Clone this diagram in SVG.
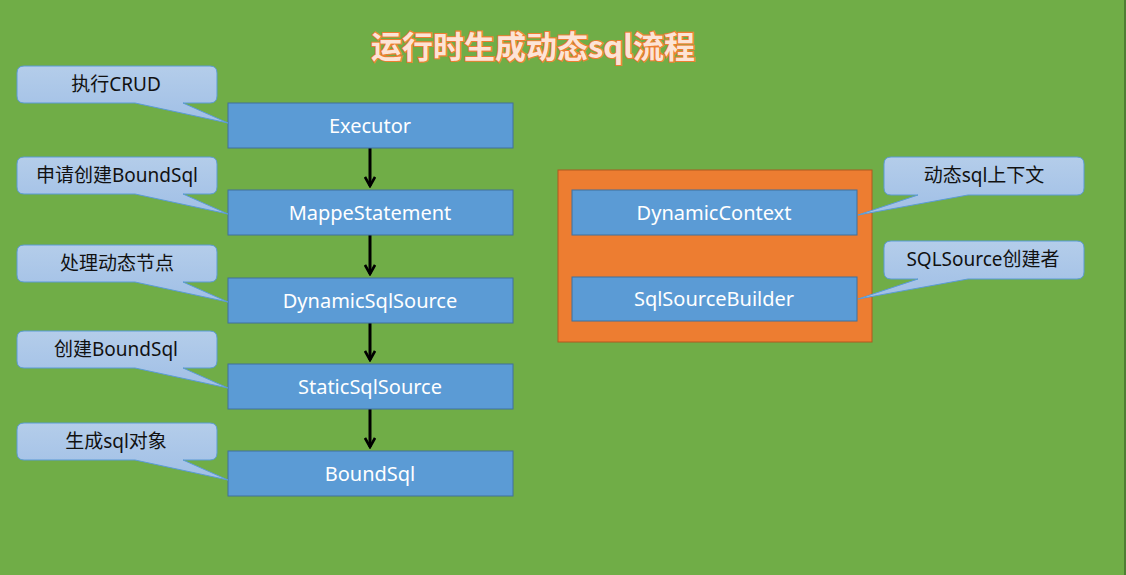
<svg xmlns="http://www.w3.org/2000/svg" width="1126" height="575" viewBox="0 0 1126 575">
<defs>
<style>
.box{fill:#5B9BD5;stroke:#41719C;stroke-width:1}
.bt{font-family:"Noto Sans","Open Sans",sans-serif;font-size:20px;fill:#FFFFFF;text-anchor:middle}
.ct{font-family:"Noto Sans","Noto Sans CJK SC",sans-serif;font-size:19px;fill:#111111;text-anchor:middle}
.co{fill:url(#cg);stroke:#5B9BD5;stroke-width:1}
.conn{stroke:#000;stroke-width:3;fill:none}
</style>
<linearGradient id="cg" x1="0" y1="0" x2="0" y2="1">
<stop offset="0" stop-color="#B4CDEA"/>
<stop offset="1" stop-color="#A0BFE6"/>
</linearGradient>
<path id="cl" d="M24 0 H210 Q217 0 217 7 V30 Q217 37 210 37 H183 L228 57 L135 37 H24 Q17 37 17 30 V7 Q17 0 24 0 Z"/>
<path id="cr" d="M891 0 H1077 Q1084 0 1084 7 V31 Q1084 38 1077 38 H968 L858 58 L918 38 H891 Q884 38 884 31 V7 Q884 0 891 0 Z"/>
<marker id="ah" viewBox="0 0 12 12" refX="10" refY="6" markerWidth="12" markerHeight="12" markerUnits="userSpaceOnUse" orient="auto">
<path d="M1 1 L10 6 L1 11" fill="none" stroke="#000" stroke-width="2.6"/>
</marker>
</defs>
<rect x="0" y="0" width="1126" height="575" fill="#70AD47"/>
<line x1="1125" y1="0" x2="1125" y2="575" stroke="#4E7F33" stroke-width="2"/>

<g id="title">
<text x="533" y="58" text-anchor="middle" font-family="Noto Sans CJK SC,Noto Sans,sans-serif" font-size="31" font-weight="bold" fill="#FCE4D6" stroke="#ED7D31" stroke-width="2.2" paint-order="stroke">运行时生成动态sql流程</text>
</g>

<g id="connectors">
<line class="conn" x1="370" y1="148" x2="370" y2="186" marker-end="url(#ah)"/>
<line class="conn" x1="370" y1="235" x2="370" y2="274" marker-end="url(#ah)"/>
<line class="conn" x1="370" y1="323" x2="370" y2="360" marker-end="url(#ah)"/>
<line class="conn" x1="370" y1="409" x2="370" y2="447" marker-end="url(#ah)"/>
</g>

<g id="executor">
<rect class="box" x="228" y="103" width="285" height="45"/>
<text class="bt" x="370" y="133">Executor</text>
</g>
<g id="mappestatement">
<rect class="box" x="228" y="190" width="285" height="45"/>
<text class="bt" x="370" y="220">MappeStatement</text>
</g>
<g id="dynamicsqlsource">
<rect class="box" x="228" y="278" width="285" height="45"/>
<text class="bt" x="370" y="308">DynamicSqlSource</text>
</g>
<g id="staticsqlsource">
<rect class="box" x="228" y="364" width="285" height="45"/>
<text class="bt" x="370" y="394">StaticSqlSource</text>
</g>
<g id="boundsql">
<rect class="box" x="228" y="451" width="285" height="45"/>
<text class="bt" x="370" y="481">BoundSql</text>
</g>

<g id="helpers">
<rect x="558" y="170" width="314" height="172" fill="#ED7D31" stroke="#AE5A21" stroke-width="1"/>
</g>
<g id="dynamiccontext">
<rect class="box" x="572" y="190" width="285" height="45"/>
<text class="bt" x="714" y="220">DynamicContext</text>
</g>
<g id="sqlsourcebuilder">
<rect class="box" x="572" y="277" width="285" height="44"/>
<text class="bt" x="714" y="306">SqlSourceBuilder</text>
</g>

<g id="callout1">
<use href="#cl" class="co" transform="translate(0,66)"/>
<text class="ct" x="116" y="91">执行CRUD</text>
</g>
<g id="callout2">
<use href="#cl" class="co" transform="translate(0,157)"/>
<text class="ct" x="117" y="182">申请创建BoundSql</text>
</g>
<g id="callout3">
<use href="#cl" class="co" transform="translate(0,245)"/>
<text class="ct" x="117" y="270">处理动态节点</text>
</g>
<g id="callout4">
<use href="#cl" class="co" transform="translate(0,331)"/>
<text class="ct" x="116" y="356">创建BoundSql</text>
</g>
<g id="callout5">
<use href="#cl" class="co" transform="translate(0,423)"/>
<text class="ct" x="116" y="448">生成sql对象</text>
</g>
<g id="callout6">
<use href="#cr" class="co" transform="translate(0,157)"/>
<text class="ct" x="984" y="182">动态sql上下文</text>
</g>
<g id="callout7">
<use href="#cr" class="co" transform="translate(0,241)"/>
<text class="ct" x="983" y="266">SQLSource创建者</text>
</g>
</svg>
